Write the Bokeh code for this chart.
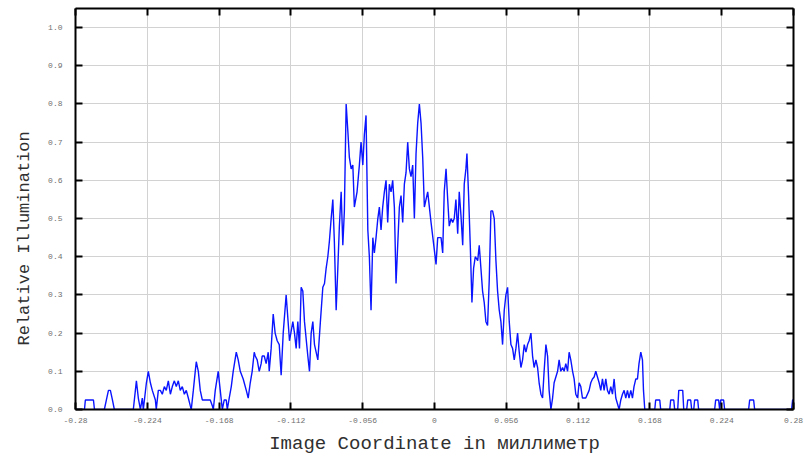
from bokeh.plotting import figure
from bokeh.models import LinearAxis, FixedTicker, CustomJSTickFormatter, ColumnDataSource, Title
from bokeh.embed import file_html
from bokeh.resources import INLINE

# ---- data ----
x_mm = [
    -0.2800, -0.2730, -0.2723, -0.2660, -0.2652, -0.2575, -0.2559, -0.2543, -0.2528, -0.2512,
    -0.2497, -0.2349, -0.2333, -0.2325, -0.2310, -0.2294, -0.2279, -0.2271, -0.2247, -0.2232,
    -0.2216, -0.2201, -0.2177, -0.2170, -0.2154, -0.2138, -0.2123, -0.2107, -0.2092, -0.2076,
    -0.2060, -0.2045, -0.2029, -0.2014, -0.1998, -0.1983, -0.1967, -0.1951, -0.1936, -0.1920,
    -0.1905, -0.1897, -0.1881, -0.1866, -0.1858, -0.1842, -0.1827, -0.1811, -0.1780, -0.1749,
    -0.1733, -0.1725, -0.1710, -0.1687, -0.1671, -0.1655, -0.1640, -0.1624, -0.1616, -0.1601,
    -0.1585, -0.1570, -0.1546, -0.1531, -0.1515, -0.1492, -0.1468, -0.1453, -0.1437, -0.1422,
    -0.1406, -0.1398, -0.1383, -0.1367, -0.1352, -0.1344, -0.1328, -0.1313, -0.1297, -0.1289,
    -0.1274, -0.1258, -0.1243, -0.1227, -0.1211, -0.1196, -0.1180, -0.1157,
    -0.1131, -0.1105, -0.1092, -0.1079, -0.1066, -0.1053, -0.1040, -0.1027, -0.1014, -0.0988,
    -0.0975, -0.0962, -0.0949, -0.0936, -0.0910, -0.0890, -0.0871, -0.0858, -0.0845, -0.0832,
    -0.0820, -0.0806, -0.0793, -0.0781, -0.0767, -0.0754, -0.0742, -0.0728, -0.0715, -0.0703,
    -0.0689, -0.0676, -0.0664, -0.0650, -0.0637, -0.0625, -0.0604, -0.0586, -0.0573, -0.0559,
    -0.0547, -0.0534, -0.0520, -0.0508, -0.0495, -0.0481, -0.0469, -0.0456, -0.0442, -0.0430,
    -0.0417, -0.0404, -0.0391, -0.0378, -0.0365, -0.0352, -0.0339, -0.0326, -0.0313, -0.0300,
    -0.0287, -0.0274, -0.0261, -0.0248, -0.0235, -0.0222, -0.0209, -0.0196, -0.0183, -0.0170,
    -0.0157, -0.0144, -0.0131, -0.0118, -0.0105, -0.0092, -0.0079, -0.0053, -0.0027, -0.0002,
    0.0012, 0.0025, 0.0051, 0.0064, 0.0076, 0.0090, 0.0103, 0.0115, 0.0129, 0.0142,
    0.0154, 0.0167, 0.0181, 0.0193, 0.0206, 0.0220, 0.0232, 0.0245, 0.0253, 0.0266,
    0.0279, 0.0292, 0.0305, 0.0318, 0.0337, 0.0349, 0.0362, 0.0375, 0.0388, 0.0401,
    0.0414, 0.0427, 0.0440, 0.0453, 0.0466, 0.0479, 0.0492, 0.0505, 0.0518, 0.0531,
    0.0544, 0.0557, 0.0570, 0.0583, 0.0596, 0.0609, 0.0622, 0.0635, 0.0648, 0.0661,
    0.0674, 0.0687, 0.0700, 0.0713, 0.0726, 0.0738, 0.0752, 0.0765, 0.0777, 0.0791,
    0.0804, 0.0816, 0.0830, 0.0843, 0.0855, 0.0869, 0.0882, 0.0894, 0.0908, 0.0921,
    0.0933, 0.0960, 0.0972, 0.0985, 0.0999, 0.1011, 0.1024, 0.1038, 0.1050, 0.1063,
    0.1077, 0.1089, 0.1102, 0.1116, 0.1128, 0.1141, 0.1154, 0.1180, 0.1206, 0.1219,
    0.1232, 0.1245, 0.1258, 0.1271, 0.1284, 0.1297, 0.1310, 0.1323, 0.1336, 0.1349,
    0.1362, 0.1375, 0.1388, 0.1401, 0.1414, 0.1427, 0.1440, 0.1453, 0.1466, 0.1479,
    0.1492, 0.1505, 0.1517, 0.1531, 0.1544, 0.1556, 0.1570, 0.1583, 0.1595, 0.1609,
    0.1622, 0.1630, 0.1640, 0.1718, 0.1725, 0.1757, 0.1764, 0.1835, 0.1842, 0.1866,
    0.1873, 0.1897, 0.1905, 0.1936, 0.1944, 0.1967, 0.1975, 0.1998, 0.2006, 0.2022,
    0.2029, 0.2053, 0.2060, 0.2185, 0.2193, 0.2216, 0.2224, 0.2232, 0.2255, 0.2263,
    0.2450, 0.2458, 0.2489, 0.2497, 0.2785, 0.2793, 0.2800,
]
illumination = [
    0, 0, 0.025, 0.025, 0, 0, 0.025, 0.05, 0.05, 0.025,
    0, 0, 0.05, 0.075, 0.03, 0, 0.03, 0, 0.07, 0.10,
    0.07, 0.05, 0.025, 0, 0.05, 0.05, 0.04, 0.06, 0.05, 0.075,
    0.04, 0.06, 0.075, 0.06, 0.075, 0.05, 0.06, 0.04, 0.05, 0.03,
    0.01, 0, 0.05, 0.10, 0.125, 0.10, 0.05, 0.025, 0.025, 0.025,
    0.01, 0, 0.05, 0.10, 0.05, 0, 0.025, 0.025, 0, 0.03,
    0.06, 0.10, 0.15, 0.13, 0.10, 0.08, 0.05, 0.03, 0.07, 0.10,
    0.15, 0.14, 0.13, 0.10, 0.12, 0.14, 0.14, 0.12, 0.15, 0.10,
    0.16, 0.25, 0.20, 0.18, 0.17, 0.09, 0.20, 0.30,
    0.18, 0.23, 0.20, 0.16, 0.23, 0.16, 0.32, 0.31, 0.23, 0.14,
    0.10, 0.20, 0.23, 0.17, 0.13, 0.23, 0.32, 0.33, 0.37, 0.40,
    0.44, 0.50, 0.55, 0.44, 0.26, 0.37, 0.48, 0.57, 0.43, 0.52,
    0.80, 0.73, 0.66, 0.63, 0.64, 0.53, 0.57, 0.64, 0.70, 0.64,
    0.72, 0.77, 0.47, 0.40, 0.26, 0.45, 0.41, 0.45, 0.50, 0.53,
    0.47, 0.53, 0.57, 0.60, 0.49, 0.59, 0.57, 0.60, 0.53, 0.33,
    0.43, 0.53, 0.56, 0.49, 0.59, 0.62, 0.70, 0.63, 0.61, 0.64,
    0.50, 0.67, 0.75, 0.80, 0.75, 0.66, 0.53, 0.57, 0.49, 0.42,
    0.38, 0.45, 0.45, 0.41, 0.57, 0.63, 0.55, 0.48, 0.50, 0.49,
    0.50, 0.55, 0.46, 0.57, 0.51, 0.43, 0.59, 0.63, 0.67, 0.56,
    0.43, 0.28, 0.37, 0.40, 0.39, 0.43, 0.37, 0.31, 0.28, 0.23,
    0.22, 0.34, 0.52, 0.52, 0.50, 0.39, 0.31, 0.26, 0.23, 0.17,
    0.26, 0.30, 0.32, 0.23, 0.17, 0.16, 0.13, 0.16, 0.20, 0.15,
    0.11, 0.13, 0.17, 0.15, 0.17, 0.18, 0.20, 0.14, 0.11, 0.13,
    0.11, 0.07, 0.04, 0.03, 0.10, 0.17, 0.14, 0.05, 0.0, 0.03,
    0.07, 0.10, 0.13, 0.10, 0.11, 0.10, 0.12, 0.10, 0.15, 0.13,
    0.10, 0.08, 0.04, 0.03, 0.07, 0.06, 0.03, 0.03, 0.05, 0.07,
    0.08, 0.085, 0.10, 0.085, 0.07, 0.05, 0.08, 0.05, 0.08, 0.05,
    0.04, 0.06, 0.04, 0.08, 0.03, 0.015, 0.0, 0.025, 0.04, 0.05,
    0.03, 0.05, 0.03, 0.05, 0.03, 0.06, 0.08, 0.08, 0.12, 0.15,
    0.13, 0.05, 0.0, 0, 0.025, 0.025, 0, 0, 0.025, 0.025,
    0, 0, 0.05, 0.05, 0, 0, 0.025, 0.025, 0, 0,
    0.025, 0.025, 0, 0, 0.025, 0.025, 0, 0.025, 0.025, 0,
    0, 0.025, 0.025, 0, 0, 0.025, 0.025,
]
assert len(x_mm) == len(illumination), (len(x_mm), len(illumination))

x_ticks = [-0.28, -0.224, -0.168, -0.112, -0.056, 0.0, 0.056, 0.112, 0.168, 0.224, 0.28]
x_tick_labels = ["-0.28", "-0.224", "-0.168", "-0.112", "-0.056", "0",
                 "0.056", "0.112", "0.168", "0.224", "0.28"]
y_ticks = [0.0, 0.1, 0.2, 0.3, 0.4, 0.5, 0.6, 0.7, 0.8, 0.9, 1.0]
y_tick_labels = ["0.0", "0.1", "0.2", "0.3", "0.4", "0.5", "0.6", "0.7", "0.8", "0.9", "1.0"]

x_title = "Image Coordinate in миллиметр"
y_title = "Relative Illumination"

# ---- figure ----
fmt_code = """
let best = 0;
for (let i = 0; i < tv.length; i++) {
  if (Math.abs(tv[i] - tick) < Math.abs(tv[best] - tick)) best = i;
}
return tl[best];
"""

p = figure(width=804, height=457, x_range=(-0.28, 0.28), y_range=(0, 1.05),
           output_backend="svg", toolbar_location=None,
           min_border_left=74, min_border_right=11, min_border_top=8, min_border_bottom=48)
p.outline_line_color = None
p.background_fill_color = "white"
p.border_fill_color = "white"

src = ColumnDataSource(dict(x=x_mm, y=illumination))
p.line("x", "y", source=src, line_color="#0a14ff", line_width=1.4)

mono = "Liberation Mono"
tick_color = "#707070"
title_color = "#303030"

for ax, ticks, labels in ((p.xaxis[0], x_ticks, x_tick_labels), (p.yaxis[0], y_ticks, y_tick_labels)):
    ax.ticker = FixedTicker(ticks=ticks)
    ax.formatter = CustomJSTickFormatter(args=dict(tv=ticks, tl=labels), code=fmt_code)
    ax.major_tick_in = 7
    ax.major_tick_out = 0
    ax.minor_tick_line_color = None
    ax.axis_line_width = 2
    ax.axis_line_color = "black"
    ax.major_tick_line_width = 2
    ax.major_tick_line_color = "black"
    ax.major_label_text_font = mono
    ax.major_label_text_font_size = "8px"
    ax.major_label_text_color = tick_color

p.xaxis.major_label_standoff = 8
p.xaxis.axis_label = x_title
p.xaxis.axis_label_text_font = mono
p.xaxis.axis_label_text_font_style = "normal"
p.xaxis.axis_label_text_font_size = "19px"
p.xaxis.axis_label_text_color = title_color
p.xaxis.axis_label_standoff = 7

p.yaxis.major_label_standoff = 13

# y title as a side title, starting low like in the reference
p.add_layout(Title(text=y_title, align="left", offset=64, standoff=24,
                   text_font=mono, text_font_style="normal", text_font_size="17px",
                   text_color=title_color), "left")

# frame axes on top and right: ticks only (as minor ticks, so no labels are produced)
top = LinearAxis(ticker=FixedTicker(ticks=[], minor_ticks=x_ticks),
                 major_tick_line_color=None, major_label_text_font_size="8px",
                 major_label_standoff=0, minor_tick_in=7, minor_tick_out=0,
                 minor_tick_line_width=2, minor_tick_line_color="black",
                 axis_line_width=2, axis_line_color="black")
right = LinearAxis(ticker=FixedTicker(ticks=[], minor_ticks=y_ticks),
                   major_tick_line_color=None, major_label_text_font_size="8px",
                   major_label_standoff=0, minor_tick_in=7, minor_tick_out=0,
                   minor_tick_line_width=2, minor_tick_line_color="black",
                   axis_line_width=2, axis_line_color="black")
p.add_layout(top, "above")
p.add_layout(right, "right")

p.xgrid.ticker = FixedTicker(ticks=x_ticks)
p.ygrid.ticker = FixedTicker(ticks=y_ticks)
for g in (p.xgrid[0], p.ygrid[0]):
    g.grid_line_color = "#d2d2d2"
    g.grid_line_width = 1

open("out.html", "w").write(file_html(p, INLINE))
